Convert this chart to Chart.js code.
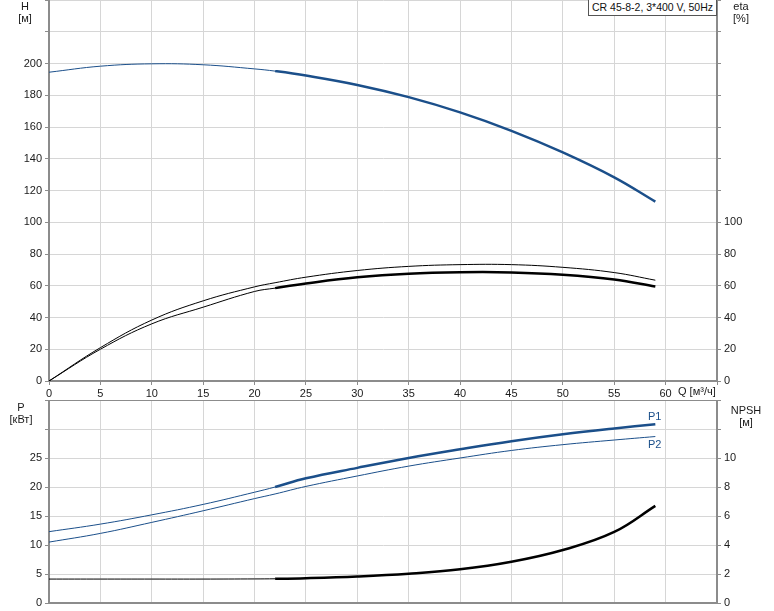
<!DOCTYPE html>
<html>
<head>
<meta charset="utf-8">
<script src="https://cdn.jsdelivr.net/npm/chart.js@4"></script>
<style>
  body { margin: 0; background: #fff; font-family: "Liberation Sans", Arial, sans-serif; }
  #wrap { position: relative; width: 774px; height: 611px; }
  canvas { position: absolute; left: 0; }
  .lbl { position: absolute; font-size: 11px; color: #1a1a1a; text-align: center; line-height: 12px; white-space: nowrap; }
  #model { position: absolute; right: 57px; top: 0px; padding: 0 3px; height: 15px; border: 1px solid #555; border-top: none;
           background: #fff; font-size: 10.5px; line-height: 15px; white-space: nowrap; color: #111; }
</style>
</head>
<body>
<div id="wrap">
  <canvas id="topChart" width="774" height="400" style="top:0"></canvas>
  <canvas id="bottomChart" width="774" height="211" style="top:400px"></canvas>
  <div class="lbl" style="left:10px;top:0;width:30px">H<br>[м]</div>
  <div class="lbl" style="left:726px;top:0;width:30px">eta<br>[%]</div>
  <div class="lbl" style="left:4px;top:401px;width:34px">P<br>[кВт]</div>
  <div class="lbl" style="left:726px;top:404px;width:40px">NPSH<br>[м]</div>
  <div class="lbl" style="left:678px;top:385px;text-align:left">Q [м³/ч]</div>
  <div id="model">CR 45-8-2, 3*400 V, 50Hz</div>
</div>
<script>
// Flow points (m3/h) shared by all curves
const flow = [0, 5, 10, 15, 20, 22, 25, 30, 35, 40, 45, 50, 55, 59];
// Head H [m]
const head = [194.5, 198.3, 199.8, 199.2, 196.6, 195.2, 192.4, 186.5, 178.8, 169.2, 157.6, 144, 128.3, 113];
// Efficiencies eta [%]
const etaUpper = [0, 21, 38.4, 50.5, 59.3, 61.9, 65.4, 69.6, 72.2, 73.3, 73.3, 71.6, 68.3, 63.5];
const etaLower = [0, 20, 36, 46.5, 56.4, 58.5, 61.4, 65.3, 67.6, 68.5, 68.4, 67, 64, 59.5];
// Power P1 / P2 [kW]
const powerP1 = [12.3, 13.6, 15.2, 17.0, 19.1, 20.0, 21.5, 23.3, 25.0, 26.5, 27.9, 29.1, 30.1, 30.8];
const powerP2 = [10.5, 12.0, 13.9, 15.9, 18.0, 18.8, 20.1, 21.9, 23.6, 25.0, 26.3, 27.3, 28.1, 28.7];
// NPSH [m]
const npsh = [1.65, 1.65, 1.65, 1.65, 1.66, 1.67, 1.71, 1.83, 2.02, 2.32, 2.84, 3.65, 4.9, 6.7];

const qStart = 22; // start of the bold (operating) range
const xTicksMax = 60;

const blue = '#1b4f8a';
const gridColor = '#d6d6d6';
const axisColor = '#8c8c8c';
const font = { family: 'Liberation Sans, Arial, sans-serif', size: 11 };

function pts(values) {
    return flow.map((q, i) => ({ x: q, y: values[i] }));
}

// bold = true makes the part from qStart onwards thick
function line(values, color, axis, bold) {
    return {
        data: pts(values),
        borderColor: color,
        borderWidth: 1,
        pointRadius: 0,
        tension: 0.4,
        yAxisID: axis,
        fill: false,
        segment: {
            borderWidth: c => (bold && c.p0.parsed.x >= qStart) ? 2.5 : 1
        }
    };
}

function fixWidth(w) {
    return scale => { scale.width = w; scale.paddingTop = 0; scale.paddingBottom = 0; };
}
function fixHeight(h) {
    return scale => { scale.height = h; scale.paddingLeft = 0; scale.paddingRight = 0; };
}

const common = {
    responsive: false,
    animation: false,
    layout: { padding: 0 },
    plugins: { legend: { display: false }, tooltip: { enabled: false } }
};

// Top panel: H and eta
new Chart(document.getElementById('topChart'), {
    type: 'line',
    data: {
        datasets: [
            line(head, blue, 'yH', true),
            line(etaUpper, '#000', 'yEta', false),
            line(etaLower, '#000', 'yEta', true)
        ]
    },
    options: {
        ...common,
        scales: {
            x: {
                type: 'linear', min: 0, max: 65,
                ticks: { stepSize: 5, color: '#1a1a1a', font, padding: 2, maxRotation: 0,
                         callback: v => v <= xTicksMax ? v : '' },
                grid: { color: gridColor, tickColor: axisColor, tickLength: 4 },
                border: { color: axisColor, width: 2 },
                afterFit: fixHeight(19)
            },
            yH: {
                position: 'left', min: 0, max: 240,
                ticks: { stepSize: 20, color: '#1a1a1a', font, padding: 3,
                         callback: v => v <= 200 ? v : '' },
                grid: { color: gridColor, tickColor: axisColor, tickLength: 4 },
                border: { color: axisColor, width: 2 },
                afterFit: fixWidth(49)
            },
            yEta: {
                position: 'right', min: 0, max: 240,
                ticks: { stepSize: 20, color: '#1a1a1a', font, padding: 3,
                         callback: v => v <= 100 ? v : '' },
                grid: { drawOnChartArea: false, tickColor: axisColor, tickLength: 4 },
                border: { color: axisColor, width: 2 },
                afterFit: fixWidth(57)
            }
        }
    }
});

// P1 / P2 labels at the curve ends
const powerLabels = {
    id: 'powerLabels',
    afterDatasetsDraw(chart) {
        const ctx = chart.ctx;
        const xs = chart.scales.x, ys = chart.scales.yP;
        const qEnd = flow[flow.length - 1];
        ctx.save();
        ctx.fillStyle = blue;
        ctx.font = '11px Liberation Sans, Arial, sans-serif';
        ctx.textAlign = 'right';
        ctx.textBaseline = 'middle';
        ctx.fillText('P1', xs.getPixelForValue(qEnd) + 6, ys.getPixelForValue(powerP1[powerP1.length - 1]) - 7);
        ctx.fillText('P2', xs.getPixelForValue(qEnd) + 6, ys.getPixelForValue(powerP2[powerP2.length - 1]) + 8);
        ctx.restore();
    }
};

// Bottom panel: P and NPSH
new Chart(document.getElementById('bottomChart'), {
    type: 'line',
    data: {
        datasets: [
            line(powerP1, blue, 'yP', true),
            line(powerP2, blue, 'yP', false),
            line(npsh, '#000', 'yN', true)
        ]
    },
    options: {
        ...common,
        scales: {
            x: {
                type: 'linear', min: 0, max: 65,
                ticks: { stepSize: 5, display: false },
                grid: { color: gridColor, drawTicks: false },
                border: { color: axisColor, width: 2 },
                afterFit: fixHeight(8)
            },
            yP: {
                position: 'left', min: 0, max: 35,
                ticks: { stepSize: 5, color: '#1a1a1a', font, padding: 3,
                         callback: v => v <= 25 ? v : '' },
                grid: {
                    color: c => c.tick && c.tick.value === 35 ? axisColor : gridColor,
                    lineWidth: c => c.tick && c.tick.value === 35 ? 2 : 1,
                    tickColor: axisColor, tickLength: 4
                },
                border: { color: axisColor, width: 2 },
                afterFit: fixWidth(49)
            },
            yN: {
                position: 'right', min: 0, max: 14,
                ticks: { stepSize: 2, color: '#1a1a1a', font, padding: 3,
                         callback: v => v <= 10 ? v : '' },
                grid: { drawOnChartArea: false, tickColor: axisColor, tickLength: 4 },
                border: { color: axisColor, width: 2 },
                afterFit: fixWidth(57)
            }
        }
    },
    plugins: [powerLabels]
});
</script>
</body>
</html>
